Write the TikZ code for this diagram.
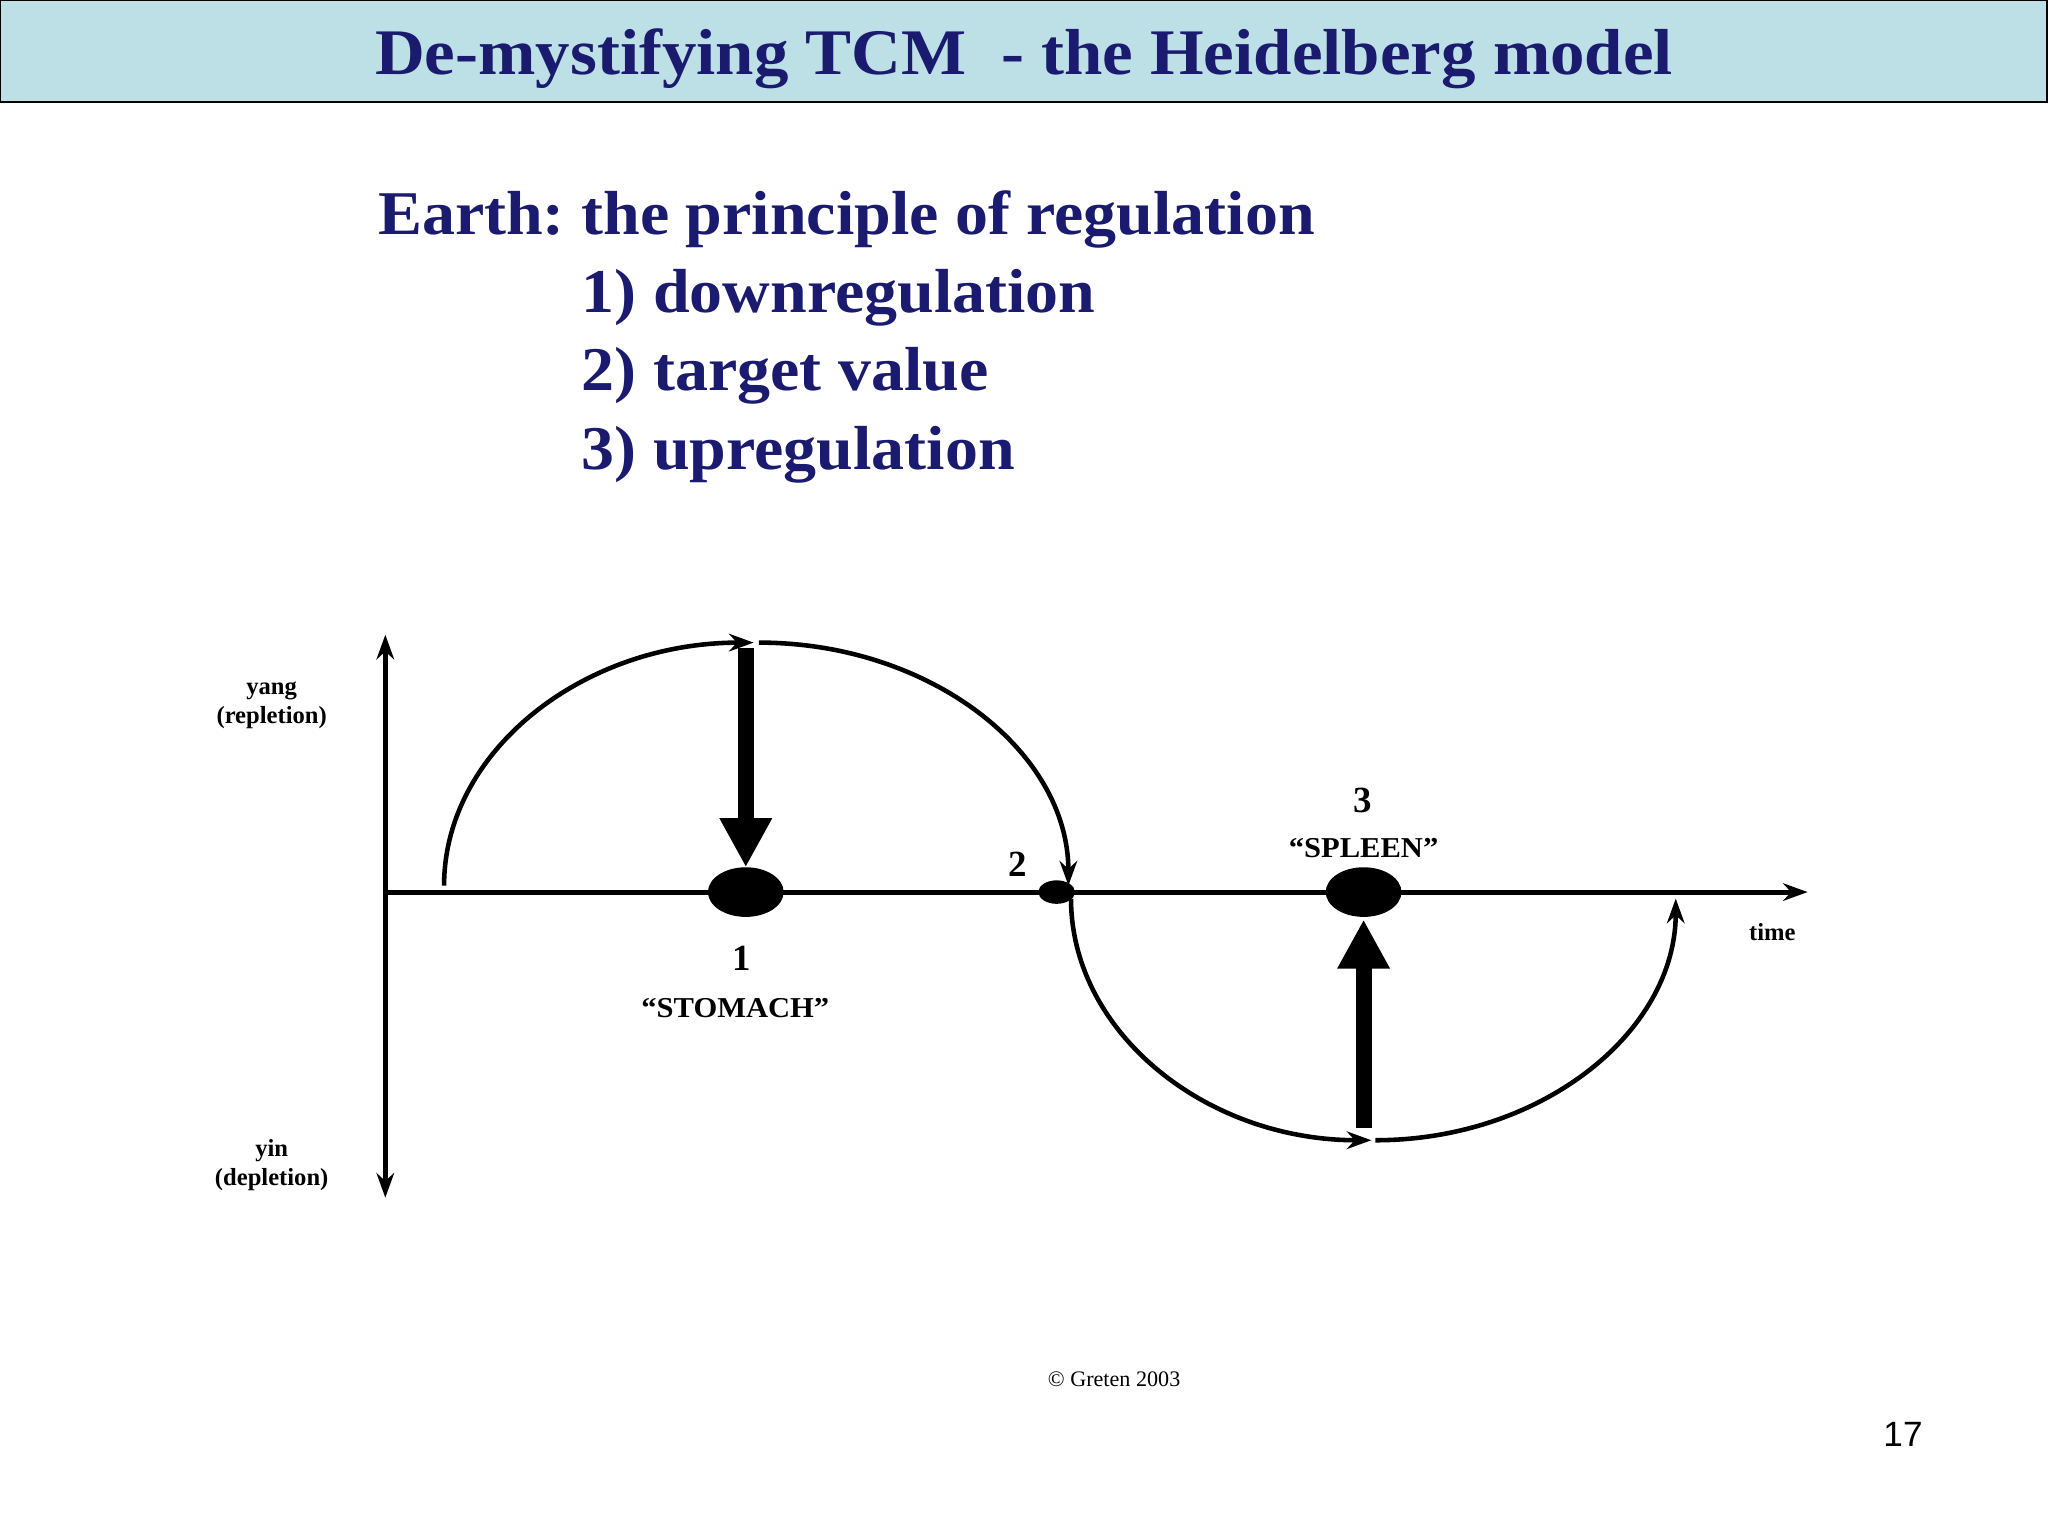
\documentclass[tikz,border=0pt]{standalone}
\usepackage{fontspec}
\setmainfont{Liberation Serif}
\newfontfamily\lsans{Liberation Sans}
\newfontfamily\wide[FakeStretch=1.06,Ligatures=TeX]{Liberation Serif}
\usetikzlibrary{arrows.meta}
\definecolor{navy}{HTML}{1A1A6E}
\definecolor{barblue}{HTML}{BCE0E6}
\frenchspacing
\begin{document}
\begin{tikzpicture}[x=0.01306cm,y=-0.01306cm,
  lbl/.style={font=\fontsize{7pt}{8.4pt}\selectfont\bfseries,align=center},
  num/.style={font=\fontsize{10.5pt}{12pt}\selectfont\bfseries},
  head/.style={font=\wide\fontsize{17.7pt}{22pt}\selectfont\bfseries,text=navy,anchor=west},
  curve/.style={line width=1.3pt,-{Stealth[length=7pt,width=5pt]}},
  fat/.style={line width=4.5pt,-{Triangle[length=14pt,width=14pt]}}]
\useasboundingbox (0,0) rectangle (1568,1176);
\fill[white] (0,0) rectangle (1568,1176);
\draw[fill=barblue,line width=0.6pt] (0,0) rectangle (1567,78);
\node[font=\wide\fontsize{18.5pt}{22pt}\selectfont\bfseries,text=navy] (title) at (784,45) {De-mystifying TCM\ \ - the Heidelberg model};
\node[head] (h0) at (280,168) {Earth: the principle of regulation};
\node[head] (h1) at (436,228) {1) downregulation};
\node[head] (h2) at (436,288) {2) target value};
\node[head] (h3) at (436,348) {3) upregulation};
% axes
\coordinate (ytop) at (295,486);
\coordinate (ybot) at (295,917);
\coordinate (xl) at (295,683);
\coordinate (xr) at (1384,683);
\draw[line width=1.4pt,{Stealth[length=7pt,width=5pt]}-{Stealth[length=7pt,width=5pt]}] (ytop) -- (ybot);
\draw[line width=1.4pt,-{Stealth[length=7pt,width=5pt]}] (xl) -- (xr);
% curves
\coordinate (c0) at (340,678);
\draw[curve] (c0) arc[start angle=180,end angle=270,x radius=237,y radius=186] coordinate (ctop);
\draw[curve] (ctop) ++(4,0) arc[start angle=270,end angle=360,x radius=237,y radius=186];
\coordinate (d0) at (820,688);
\draw[curve] (d0) arc[start angle=180,end angle=90,x radius=230,y radius=185] coordinate (dbot);
\draw[curve] (dbot) ++(3,0) arc[start angle=90,end angle=0,x radius=230,y radius=185];
% ellipses
\fill (571,683) ellipse[x radius=29,y radius=19];
\fill (809,683) ellipse[x radius=14,y radius=9];
\fill (1044,683) ellipse[x radius=29,y radius=19];
% fat arrows
\coordinate (a1) at (571,496); \coordinate (a2) at (571,664);
\coordinate (b1) at (1044,864); \coordinate (b2) at (1044,704);
\draw[fat] (a1) -- (a2);
\draw[fat] (b1) -- (b2);
% labels
\node[num] (n1) at (568,734) {1};
\node[lbl,font=\wide\fontsize{8.2pt}{10pt}\selectfont\bfseries] (s1) at (563,772) {“STOMACH”};
\node[num] (n2) at (779,662) {2};
\node[num] (n3) at (1043,613) {3};
\node[lbl,font=\wide\fontsize{8.2pt}{10pt}\selectfont\bfseries] (s3) at (1044,649) {“SPLEEN”};
\node[lbl] (t) at (1357,714) {time};
\node[lbl] (yang) at (208,540) {yang\\(repletion)};
\node[lbl] (yin) at (208,892) {yin\\(depletion)};
\node[font=\fontsize{6.3pt}{8pt}\selectfont] (c) at (853,1056) {© Greten 2003};
\node[font=\fontsize{10pt}{12pt}\selectfont\lsans] (p) at (1457,1098) {17};
\end{tikzpicture}
\end{document}
